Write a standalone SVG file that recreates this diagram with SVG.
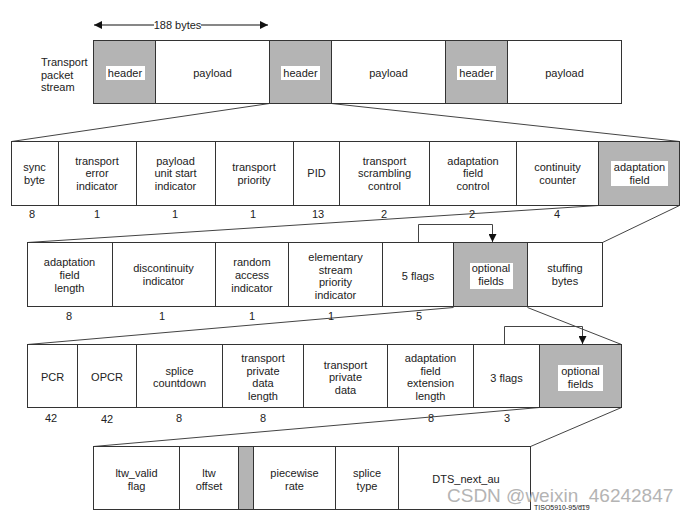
<svg xmlns="http://www.w3.org/2000/svg" width="692" height="513" viewBox="0 0 692 513">
<defs>
<marker id="ah" viewBox="0 0 10 10" refX="10" refY="5" markerWidth="8" markerHeight="8" markerUnits="userSpaceOnUse" orient="auto">
<path d="M0,0 L10,5 L0,10 z" fill="#111"/>
</marker>
</defs>
<style>
.c{fill:#fff;stroke:#333;stroke-width:1}
.g{fill:#b4b4b4;stroke:#333;stroke-width:1}
.lb{fill:#fff;stroke:none}
text{font-family:"Liberation Sans",Arial,sans-serif;font-size:11px;fill:#222;text-anchor:middle}
.st{text-anchor:start}
.cn{stroke:#444;stroke-width:1;fill:none}
.ar{stroke:#111;stroke-width:1.2;fill:none}
.wm{font-size:19px;fill:#b4b4b4;text-anchor:start}
.tiny{font-size:7px;text-anchor:start}
</style>
<rect width="692" height="513" fill="#fff"/>

<!-- connectors -->
<g id="connectors">
<line class="ar" x1="154" y1="25" x2="94" y2="25" marker-end="url(#ah)"/>
<line class="ar" x1="201" y1="25" x2="268" y2="25" marker-end="url(#ah)"/>
<line class="cn" x1="269.5" y1="103.5" x2="11.5" y2="141.5"/>
<line class="cn" x1="331.5" y1="103.5" x2="679.5" y2="141.5"/>
<line class="cn" x1="598.5" y1="205.5" x2="27.5" y2="242.5"/>
<line class="cn" x1="679.5" y1="205.5" x2="602.5" y2="242.5"/>
<line class="cn" x1="453.5" y1="307.5" x2="27.5" y2="344.5"/>
<line class="cn" x1="527.5" y1="307.5" x2="621.5" y2="344.5"/>
<line class="cn" x1="539.5" y1="407.5" x2="93.5" y2="446.5"/>
<line class="cn" x1="621.5" y1="407.5" x2="530.5" y2="446.5"/>
<path class="cn" d="M418.5,242 V224.5 H492.5 V242" stroke="#333" marker-end="url(#ah)"/>
<path class="cn" d="M504.5,344 V326.5 H582.5 V344" stroke="#333" marker-end="url(#ah)"/>
</g>

<text x="177.5" y="29">188 bytes</text>
<text class="st" x="41" y="66">Transport</text>
<text class="st" x="41" y="79">packet</text>
<text class="st" x="41" y="91">stream</text>

<!-- row 1 -->
<g id="r1-header1"><rect class="g" x="93.5" y="40.5" width="62" height="63"/><rect class="lb" x="106" y="66" width="39" height="14"/><text x="125" y="77">header</text></g>
<g id="r1-payload1"><rect class="c" x="155.5" y="40.5" width="114" height="63"/><text x="212.5" y="77">payload</text></g>
<g id="r1-header2"><rect class="g" x="269.5" y="40.5" width="62" height="63"/><rect class="lb" x="281" y="66" width="39" height="14"/><text x="300.5" y="77">header</text></g>
<g id="r1-payload2"><rect class="c" x="331.5" y="40.5" width="114" height="63"/><text x="388.5" y="77">payload</text></g>
<g id="r1-header3"><rect class="g" x="445.5" y="40.5" width="62" height="63"/><rect class="lb" x="457" y="66" width="39" height="14"/><text x="476.5" y="77">header</text></g>
<g id="r1-payload3"><rect class="c" x="507.5" y="40.5" width="114" height="63"/><text x="564.5" y="77">payload</text></g>

<!-- row 2 -->
<g id="r2-sync"><rect class="c" x="11.5" y="141.5" width="47" height="64"/><text x="34.5" y="171">sync</text><text x="34.5" y="183.5">byte</text></g>
<g id="r2-tei"><rect class="c" x="58.5" y="141.5" width="78" height="64"/><text x="97" y="164.5">transport</text><text x="97" y="177">error</text><text x="97" y="189.5">indicator</text></g>
<g id="r2-pusi"><rect class="c" x="136.5" y="141.5" width="79" height="64"/><text x="175.5" y="164.5">payload</text><text x="175.5" y="177">unit start</text><text x="175.5" y="189.5">indicator</text></g>
<g id="r2-tp"><rect class="c" x="215.5" y="141.5" width="78" height="64"/><text x="254" y="171">transport</text><text x="254" y="183.5">priority</text></g>
<g id="r2-pid"><rect class="c" x="293.5" y="141.5" width="46" height="64"/><text x="316.5" y="177">PID</text></g>
<g id="r2-tsc"><rect class="c" x="339.5" y="141.5" width="90" height="64"/><text x="384.5" y="164.5">transport</text><text x="384.5" y="177">scrambling</text><text x="384.5" y="189.5">control</text></g>
<g id="r2-afc"><rect class="c" x="429.5" y="141.5" width="87" height="64"/><text x="473" y="164.5">adaptation</text><text x="473" y="177">field</text><text x="473" y="189.5">control</text></g>
<g id="r2-cc"><rect class="c" x="516.5" y="141.5" width="82" height="64"/><text x="557.5" y="171">continuity</text><text x="557.5" y="183.5">counter</text></g>
<g id="r2-af"><rect class="g" x="598.5" y="141.5" width="81" height="64"/><rect class="lb" x="611" y="161" width="57" height="25"/><text x="639.5" y="171">adaptation</text><text x="639.5" y="183.5">field</text></g>
<g id="r2-nums">
<text x="32" y="218">8</text><text x="97" y="218">1</text><text x="175" y="218">1</text><text x="253" y="218">1</text><text x="318" y="218">13</text><text x="384" y="218">2</text><text x="472" y="218">2</text><text x="557" y="218">4</text>
</g>

<!-- row 3 -->
<g id="r3-afl"><rect class="c" x="27.5" y="242.5" width="85" height="64"/><text x="69.5" y="266">adaptation</text><text x="69.5" y="279">field</text><text x="69.5" y="292">length</text></g>
<g id="r3-di"><rect class="c" x="112.5" y="242.5" width="103" height="64"/><text x="163.5" y="272">discontinuity</text><text x="163.5" y="285">indicator</text></g>
<g id="r3-rai"><rect class="c" x="215.5" y="242.5" width="73" height="64"/><text x="252" y="266">random</text><text x="252" y="279">access</text><text x="252" y="292">indicator</text></g>
<g id="r3-espi"><rect class="c" x="288.5" y="242.5" width="94" height="64"/><text x="335.5" y="261">elementary</text><text x="335.5" y="273.5">stream</text><text x="335.5" y="286">priority</text><text x="335.5" y="298.5">indicator</text></g>
<g id="r3-5flags"><rect class="c" x="382.5" y="242.5" width="71" height="64"/><text x="418" y="280">5 flags</text></g>
<g id="r3-opt"><rect class="g" x="453.5" y="242.5" width="74" height="64"/><rect class="lb" x="470" y="263" width="43" height="26"/><text x="491" y="272">optional</text><text x="491" y="285">fields</text></g>
<g id="r3-stuff"><rect class="c" x="527.5" y="242.5" width="75" height="64"/><text x="565" y="272">stuffing</text><text x="565" y="285">bytes</text></g>
<g id="r3-nums">
<text x="69" y="320">8</text><text x="162" y="320">1</text><text x="252" y="320">1</text><text x="331" y="320">1</text><text x="419" y="320">5</text>
</g>

<!-- row 4 -->
<g id="r4-pcr"><rect class="c" x="27.5" y="344.5" width="50" height="63"/><text x="52.5" y="381">PCR</text></g>
<g id="r4-opcr"><rect class="c" x="77.5" y="344.5" width="59" height="63"/><text x="107" y="381">OPCR</text></g>
<g id="r4-sc"><rect class="c" x="136.5" y="344.5" width="86" height="63"/><text x="179.5" y="375">splice</text><text x="179.5" y="387">countdown</text></g>
<g id="r4-tpdl"><rect class="c" x="222.5" y="344.5" width="81" height="63"/><text x="263" y="362">transport</text><text x="263" y="374.5">private</text><text x="263" y="387">data</text><text x="263" y="399.5">length</text></g>
<g id="r4-tpd"><rect class="c" x="303.5" y="344.5" width="84" height="63"/><text x="345.5" y="368.5">transport</text><text x="345.5" y="381">private</text><text x="345.5" y="393.5">data</text></g>
<g id="r4-afel"><rect class="c" x="387.5" y="344.5" width="86" height="63"/><text x="430.5" y="362">adaptation</text><text x="430.5" y="374.5">field</text><text x="430.5" y="387">extension</text><text x="430.5" y="399.5">length</text></g>
<g id="r4-3flags"><rect class="c" x="473.5" y="344.5" width="66" height="63"/><text x="506.5" y="382">3 flags</text></g>
<g id="r4-opt"><rect class="g" x="539.5" y="344.5" width="82" height="63"/><rect class="lb" x="558" y="365" width="45" height="26"/><text x="580.5" y="375">optional</text><text x="580.5" y="388">fields</text></g>
<g id="r4-nums">
<text x="51" y="422">42</text><text x="107" y="423">42</text><text x="179" y="422">8</text><text x="263" y="422">8</text><text x="431" y="422">8</text><text x="507" y="422">3</text>
</g>

<!-- row 5 -->
<g id="r5-ltwvalid"><rect class="c" x="93.5" y="446.5" width="86" height="63"/><text x="136.5" y="477">ltw_valid</text><text x="136.5" y="490">flag</text></g>
<g id="r5-ltwoffset"><rect class="c" x="179.5" y="446.5" width="59" height="63"/><text x="209" y="477">ltw</text><text x="209" y="490">offset</text></g>
<g id="r5-gap"><rect class="g" x="238.5" y="446.5" width="15" height="63"/></g>
<g id="r5-pr"><rect class="c" x="253.5" y="446.5" width="82" height="63"/><text x="294.5" y="477">piecewise</text><text x="294.5" y="490">rate</text></g>
<g id="r5-st"><rect class="c" x="335.5" y="446.5" width="63" height="63"/><text x="367" y="477">splice</text><text x="367" y="490">type</text></g>
<g id="r5-dts"><rect class="c" x="398.5" y="446.5" width="132" height="63"/><text x="466" y="483">DTS_next_au</text></g>

<text class="wm" x="447" y="502">CSDN @weixin_46242847</text>
<text class="tiny" x="534" y="510">TISO5910-95/d19</text>
</svg>
